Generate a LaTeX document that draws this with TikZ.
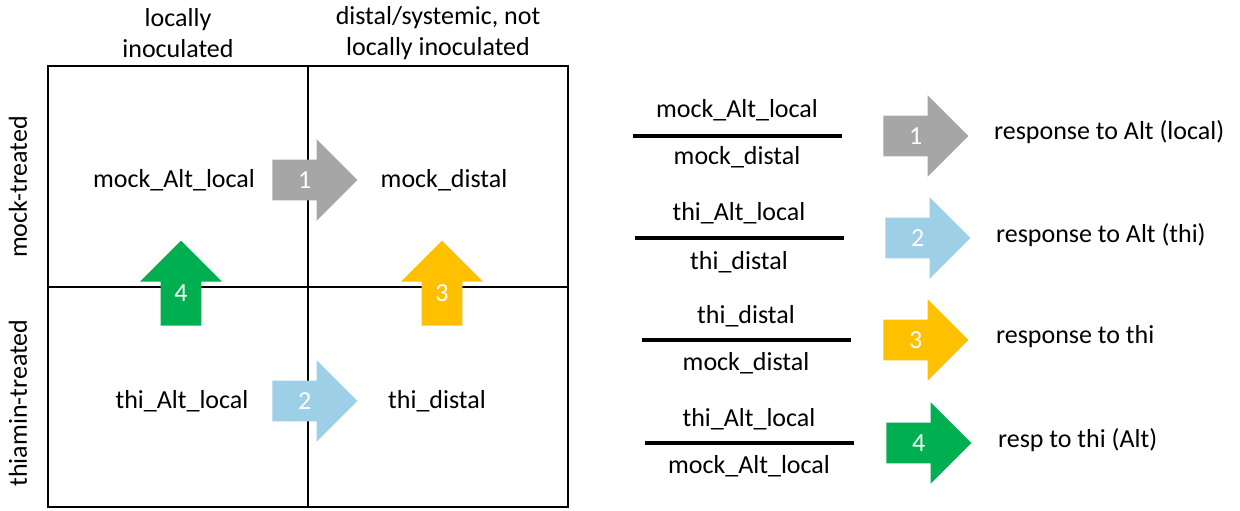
\documentclass[tikz,border=0pt]{standalone}
\usepackage{fontspec}
\setmainfont{Carlito}
\usetikzlibrary{shapes.arrows}

\definecolor{arrgray}{HTML}{A6A6A6}
\definecolor{arrblue}{HTML}{9DCFE6}
\definecolor{arryellow}{HTML}{FFC000}
\definecolor{arrgreen}{HTML}{00B050}

\begin{document}
\begin{tikzpicture}[x=0.5pt,y=-0.5pt,
        every node/.style={font=\fontsize{13}{15.5}\selectfont},
        grid/.style={line width=1.3pt},
        fracline/.style={line width=1.75pt},
        blockarrow/.style={single arrow,fill=#1,text=white,inner sep=0pt,
                text width=20pt,text height=14pt,text depth=6pt,align=center,%square box, so the shaft is 20pt either way
                minimum height=42.5pt,single arrow head extend=10.25pt},
        uparrow/.style={blockarrow=#1,shape border rotate=90}
        ]
\useasboundingbox (0,0) rectangle (1240,510);

% the 2x2 grid
\draw[grid] (48,66) rectangle (568,507);
\draw[grid] (308,66) -- (308,507);
\draw[grid] (48,287) -- (568,287);

\node[align=center] (hlocal) at (178,33) {locally\\inoculated};
\node[align=center] (hdistal) at (438,33) {distal/systemic, not\\locally inoculated};
\node[rotate=90] (rmock) at (18,187) {mock-treated};
\node[rotate=90] (rthi) at (18,403) {thiamin-treated};

\node (mockAlt) at (174,180) {mock\_Alt\_local};
\node (mockDist) at (444,180) {mock\_distal};
\node (thiAlt) at (182,401) {thi\_Alt\_local};
\node (thiDist) at (437,401) {thi\_distal};

\node[blockarrow=arrgray,anchor=tail] (a1) at (272,180) {1};
\node[blockarrow=arrblue,anchor=tail] (a2) at (272,401) {2};
\node[uparrow=arryellow,anchor=tail] (a3) at (442,326) {3};
\node[uparrow=arrgreen,anchor=tail] (a4) at (181,326) {4};

% the ratios
\draw[fracline] (633,136) -- (842,136);
\node (num1) at (737,110) {mock\_Alt\_local};
\node (den1) at (737,157) {mock\_distal};
\node[blockarrow=arrgray,anchor=tail] (r1) at (883,136) {1};
\node[anchor=west] (lab1) at (987,132) {response to Alt (local)};

\draw[fracline] (635,238) -- (844,238);
\node (num2) at (739,213) {thi\_Alt\_local};
\node (den2) at (739,262) {thi\_distal};
\node[blockarrow=arrblue,anchor=tail] (r2) at (885,238) {2};
\node[anchor=west] (lab2) at (989,235) {response to Alt (thi)};

\draw[fracline] (642,340) -- (851,340);
\node (num3) at (746,316) {thi\_distal};
\node (den3) at (746,363) {mock\_distal};
\node[blockarrow=arryellow,anchor=tail] (r3) at (883,340) {3};
\node[anchor=west] (lab3) at (989,337) {response to thi};

\draw[fracline] (645,443) -- (854,443);
\node (num4) at (749,419) {thi\_Alt\_local};
\node (den4) at (749,466) {mock\_Alt\_local};
\node[blockarrow=arrgreen,anchor=tail] (r4) at (886,443) {4};
\node[anchor=west] (lab4) at (991,440) {resp to thi (Alt)};
\end{tikzpicture}
\end{document}
